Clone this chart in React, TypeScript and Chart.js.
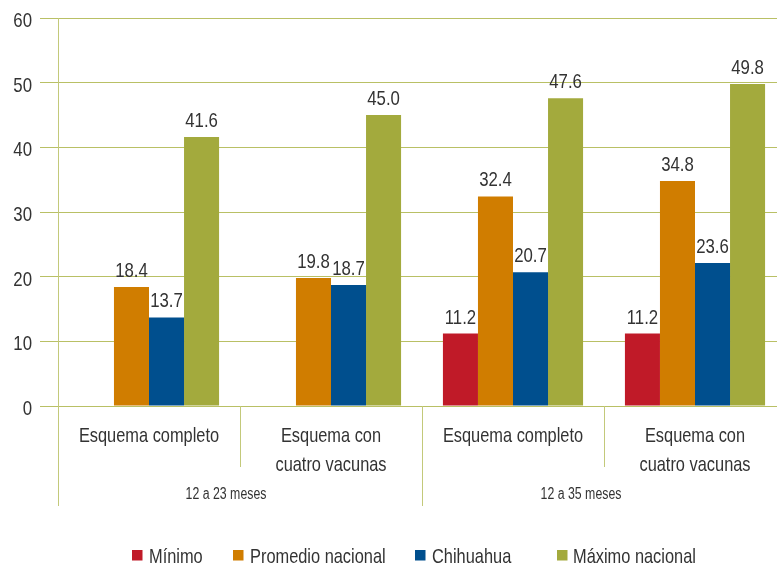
import React, { useEffect, useRef } from "react";
import { Chart, registerables } from "chart.js";

Chart.register(...registerables);

// ---- data ----
const categories = [
  ["Esquema completo"],
  ["Esquema con", "cuatro vacunas"],
  ["Esquema completo"],
  ["Esquema con", "cuatro vacunas"],
];
const groupLabels = ["12 a 23 meses", "12 a 35 meses"];
const seriesNames = ["Mínimo", "Promedio nacional", "Chihuahua", "Máximo nacional"];
const minimo = [null, null, 11.2, 11.2];
const promedioNacional = [18.4, 19.8, 32.4, 34.8];
const chihuahua = [13.7, 18.7, 20.7, 22.1];
const chihuahuaPrinted = ["13.7", "18.7", "20.7", "23.6"];
const maximoNacional = [41.6, 45.0, 47.6, 49.8];
const yMin = 0;
const yMax = 60;
const yStep = 10;

// ---- styles ----
const FONT = '"Liberation Sans", Arial, sans-serif';
const COND = 0.8; // horizontal condensing of the text
const TEXT = "#333333";
const GRID = "#b9c065";
const SEP = "#c3c97a";
const colors = ["#c01a28", "#d07d00", "#004f8e", "#a3aa3d"];

function drawText(
  ctx: CanvasRenderingContext2D,
  t: string,
  x: number,
  y: number,
  size: number,
  align: CanvasTextAlign,
  sx: number = COND
) {
  ctx.save();
  ctx.translate(x, y);
  ctx.scale(sx, 1);
  ctx.font = `${size}px ${FONT}`;
  ctx.textAlign = align;
  ctx.textBaseline = "alphabetic";
  ctx.fillText(t, 0, 0);
  ctx.restore();
}

const overlay = {
  id: "overlay",
  afterDraw(chart: any) {
    const ctx = chart.ctx as CanvasRenderingContext2D;
    const area = chart.chartArea;
    const xs = chart.scales.x;
    const ys = chart.scales.y;
    const px = (i: number) => xs.getPixelForValue(i);
    ctx.save();

    // axis line and separators
    ctx.strokeStyle = SEP;
    ctx.lineWidth = 1;
    const vline = (x: number, y0: number, y1: number) => {
      ctx.beginPath();
      ctx.moveTo(Math.round(x) + 0.5, y0);
      ctx.lineTo(Math.round(x) + 0.5, y1);
      ctx.stroke();
    };
    vline(area.left, area.top, 506);
    vline((px(0) + px(1)) / 2, area.bottom, 467);
    vline((px(1) + px(2)) / 2, area.bottom, 506);
    vline((px(2) + px(3)) / 2, area.bottom, 467);

    ctx.fillStyle = TEXT;

    // y tick labels
    for (let v = yMin; v <= yMax; v += yStep) {
      drawText(ctx, String(v), 32, ys.getPixelForValue(v) + 9, 21, "right");
    }

    // value labels
    chart.data.datasets.forEach((ds: any, i: number) => {
      const meta = chart.getDatasetMeta(i);
      meta.data.forEach((el: any, j: number) => {
        const v = ds.data[j];
        if (v == null) return;
        const txt = ds.printed ? ds.printed[j] : Number(v).toFixed(1);
        drawText(ctx, txt, el.x, el.y - 10, 21, "center");
      });
    });

    // category labels
    categories.forEach((lines, j) => {
      lines.forEach((t, k) => {
        drawText(ctx, t, px(j), 442 + k * 29, 21, "center", 0.78);
      });
    });

    // group labels
    drawText(ctx, groupLabels[0], (px(0) + px(1)) / 2 - 14, 499, 16, "center", 0.77);
    drawText(ctx, groupLabels[1], (px(2) + px(3)) / 2 - 23, 499, 16, "center", 0.77);

    // legend
    const boxX = [132, 233, 415, 557];
    const textX = [149, 250, 432, 573];
    seriesNames.forEach((name, i) => {
      ctx.fillStyle = colors[i];
      ctx.fillRect(boxX[i], 550, 10.5, 10.5);
      ctx.fillStyle = TEXT;
      drawText(ctx, name, textX[i], 563, 21, "left", 0.78);
    });

    ctx.restore();
  },
};

export default function App() {
  const ref = useRef<HTMLCanvasElement>(null);

  useEffect(() => {
    if (!ref.current) return;
    const chart = new Chart(ref.current, {
      type: "bar",
      data: {
        labels: categories.map((c) => c.join(" ")),
        datasets: [
          { label: seriesNames[0], data: minimo, backgroundColor: colors[0] },
          { label: seriesNames[1], data: promedioNacional, backgroundColor: colors[1] },
          { label: seriesNames[2], data: chihuahua, backgroundColor: colors[2], printed: chihuahuaPrinted } as any,
          { label: seriesNames[3], data: maximoNacional, backgroundColor: colors[3] },
        ],
      },
      options: {
        responsive: false,
        animation: false,
        events: [],
        layout: { padding: { top: 18, left: 0, right: 0, bottom: 162 } },
        datasets: { bar: { barPercentage: 1, categoryPercentage: 0.77, borderWidth: 0 } },
        plugins: { legend: { display: false }, tooltip: { enabled: false } },
        scales: {
          x: { display: false },
          y: {
            min: yMin,
            max: yMax,
            border: { display: false },
            grid: { color: GRID, lineWidth: 1, tickLength: 18, tickColor: GRID, drawTicks: true },
            ticks: { stepSize: yStep, display: false },
            afterFit: (s: any) => {
              s.width = 58;
            },
          },
        },
      },
      plugins: [overlay],
    });
    return () => chart.destroy();
  }, []);

  return (
    <div
      style={{
        position: "fixed",
        left: 0,
        top: 0,
        width: 777,
        height: 568,
        overflow: "hidden",
        background: "#ffffff",
      }}
    >
      <canvas ref={ref} width={786} height={568} style={{ display: "block", width: 786, height: 568 }} />
    </div>
  );
}
